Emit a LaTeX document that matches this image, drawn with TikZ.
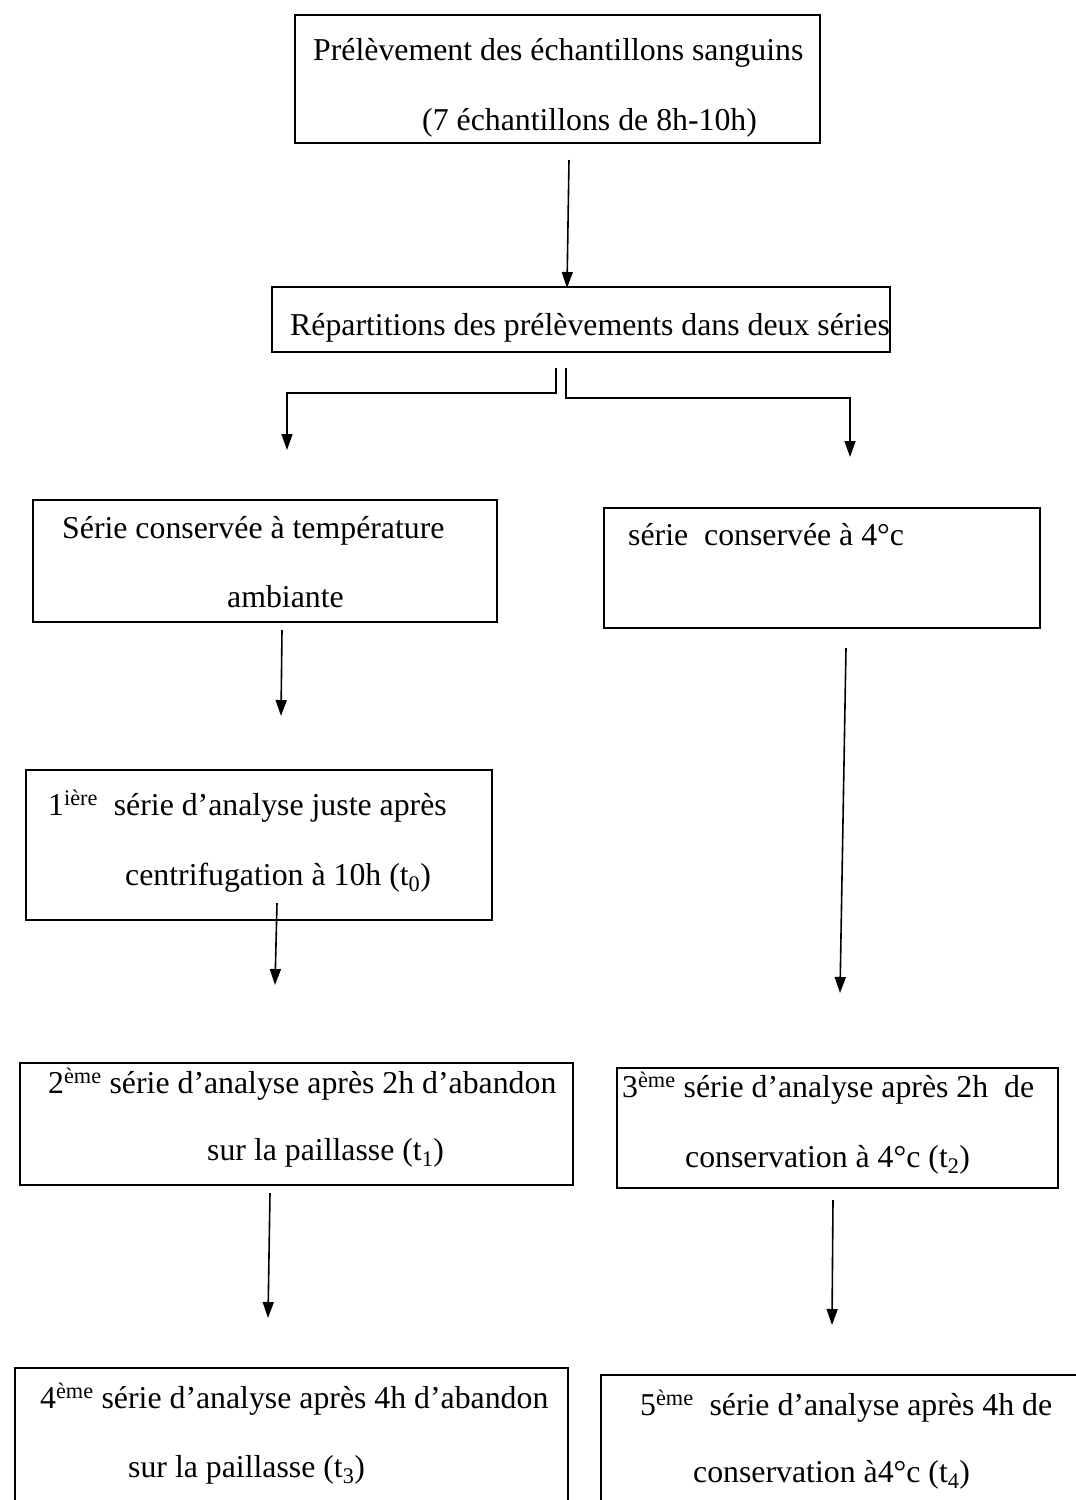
\documentclass[tikz,border=0pt]{standalone}
\usepackage{fontspec}
\setmainfont{Liberation Serif}
\usetikzlibrary{arrows.meta}
\begin{document}
\begin{tikzpicture}[x=1pt,y=-1pt,
  box/.style={draw,line width=1.8pt,inner sep=0pt},
  txt/.style={anchor=base west,inner sep=0pt,font=\fontsize{31.8}{38}\selectfont},
  arr/.style={line width=1.6pt,-{Triangle[length=16pt,width=11pt]}}]
\useasboundingbox (0,0) rectangle (1076,1500);
\clip (0,0) rectangle (1076,1500);
\fill[white] (0,0) rectangle (1076,1500);
% boxes
\node[box,minimum width=525pt,minimum height=128pt] (b1) at (557.5,79) {};
\node[box,minimum width=618pt,minimum height=65pt] (b2) at (581,319.5) {};
\node[box,minimum width=464pt,minimum height=122pt] (b3) at (265,561) {};
\node[box,minimum width=436pt,minimum height=120pt] (b4) at (822,568) {};
\node[box,minimum width=466pt,minimum height=150pt] (b5) at (259,845) {};
\node[box,minimum width=553pt,minimum height=122pt] (b6) at (296.5,1124) {};
\node[box,minimum width=441pt,minimum height=120pt] (b7) at (837.5,1128) {};
\node[box,minimum width=553pt,minimum height=162pt] (b8) at (291.5,1449) {};
\node[box,minimum width=489pt,minimum height=155pt] (b9) at (845.5,1452.5) {};
% texts
\node[txt] (t1a) at (313,60) {Prélèvement des échantillons sanguins};
\node[txt] (t1b) at (422,130) {(7 échantillons de 8h-10h)};
\node[txt] (t2) at (290,335) {Répartitions des prélèvements dans deux séries};
\node[txt] (t3a) at (62,538) {Série conservée à température};
\node[txt] (t3b) at (227,607) {ambiante};
\node[txt] (t4) at (628,545) {série\ \ conservée à 4°c};
\node[txt] (t5a) at (48,815) {1\textsuperscript{ière}\ \ série d’analyse juste après};
\node[txt] (t5b) at (125,885) {centrifugation à 10h (t\textsubscript{0})};
\node[txt] (t6a) at (48,1093) {2\textsuperscript{ème} série d’analyse après 2h d’abandon};
\node[txt] (t6b) at (207,1160) {sur la paillasse (t\textsubscript{1})};
\node[txt] (t7a) at (622,1097) {3\textsuperscript{ème} série d’analyse après 2h\ \ de};
\node[txt] (t7b) at (685,1167) {conservation à 4°c (t\textsubscript{2})};
\node[txt] (t8a) at (40,1408) {4\textsuperscript{ème} série d’analyse après 4h d’abandon};
\node[txt] (t8b) at (128,1477) {sur la paillasse (t\textsubscript{3})};
\node[txt] (t9a) at (640,1415) {5\textsuperscript{ème}\ \ série d’analyse après 4h de};
\node[txt] (t9b) at (693,1482) {conservation à4°c (t\textsubscript{4})};
% connector coordinates
\coordinate (a1s) at (569,160);
\coordinate (a1e) at (567,288);
\coordinate (sL) at (556,368);
\coordinate (sR) at (566,368);
\coordinate (tL) at (287,450);
\coordinate (tR) at (850,457);
\coordinate (a3s) at (282,630);
\coordinate (a3e) at (281,716);
\coordinate (a4s) at (846,648);
\coordinate (a4e) at (840,993);
\coordinate (a5s) at (277,903);
\coordinate (a5e) at (275,985);
\coordinate (a6s) at (270,1193);
\coordinate (a6e) at (268,1318);
\coordinate (a7s) at (833,1200);
\coordinate (a7e) at (832,1325);
% connectors
\draw[arr] (a1s) -- (a1e);
\draw[arr] (sL) -- ++(0,25) -| (tL);
\draw[arr] (sR) -- ++(0,30) -| (tR);
\draw[arr] (a3s) -- (a3e);
\draw[arr] (a4s) -- (a4e);
\draw[arr] (a5s) -- (a5e);
\draw[arr] (a6s) -- (a6e);
\draw[arr] (a7s) -- (a7e);
\end{tikzpicture}
\end{document}
